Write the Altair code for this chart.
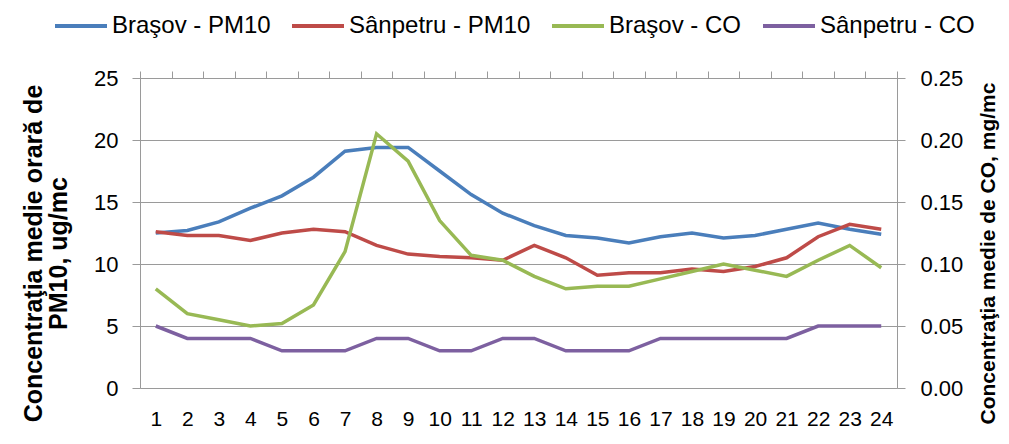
import altair as alt
import pandas as pd

hours = list(range(1, 25))
brasov_pm10 = [12.5, 12.7, 13.4, 14.5, 15.5, 17.0, 19.1, 19.4, 19.4, 17.5, 15.6, 14.1,
               13.1, 12.3, 12.1, 11.7, 12.2, 12.5, 12.1, 12.3, 12.8, 13.3, 12.8, 12.4]
sanpetru_pm10 = [12.6, 12.3, 12.3, 11.9, 12.5, 12.8, 12.6, 11.5, 10.8, 10.6, 10.5, 10.3,
                 11.5, 10.5, 9.1, 9.3, 9.3, 9.6, 9.4, 9.8, 10.5, 12.2, 13.2, 12.8]
brasov_co = [0.080, 0.060, 0.055, 0.050, 0.052, 0.067, 0.110, 0.205, 0.183, 0.135, 0.107, 0.103,
             0.090, 0.080, 0.082, 0.082, 0.088, 0.094, 0.100, 0.095, 0.090, 0.103, 0.115, 0.097]
sanpetru_co = [0.05, 0.04, 0.04, 0.04, 0.03, 0.03, 0.03, 0.04, 0.04, 0.03, 0.03, 0.04,
               0.04, 0.03, 0.03, 0.03, 0.04, 0.04, 0.04, 0.04, 0.04, 0.05, 0.05, 0.05]

series_names = ["Braşov - PM10", "Sânpetru - PM10", "Braşov - CO", "Sânpetru - CO"]
series_colors = ["#4A7EBB", "#BE4B48", "#98B954", "#7D60A0"]
left_ticks = [0, 5, 10, 15, 20, 25]
right_ticks = [0, 0.05, 0.10, 0.15, 0.20, 0.25]
tick_between = [h - 0.5 for h in hours] + [24.5]

rows = []
for name, vals in zip(series_names, [brasov_pm10, sanpetru_pm10, brasov_co, sanpetru_co]):
    for h, v in zip(hours, vals):
        rows.append({"hour": h, "series": name, "value": v})
df = pd.DataFrame(rows)

FONT = "Liberation Sans"
GRAY = "#9A9A9A"

color = alt.Color(
    "series:N",
    scale=alt.Scale(domain=series_names, range=series_colors),
    legend=alt.Legend(
        title=None, orient="none", direction="horizontal", columns=4,
        legendX=-87, legendY=-80, symbolType="stroke", symbolStrokeWidth=4,
        symbolSize=2704, labelFontSize=24, labelFont=FONT, labelColor="#000000",
        columnPadding=13, labelOffset=3, labelLimit=400,
    ),
    sort=series_names,
)

base = alt.Chart(df)

left = base.transform_filter(
    alt.FieldOneOfPredicate(field="series", oneOf=series_names[:2])
).mark_line(strokeWidth=3.5).encode(
    x=alt.X("hour:Q", scale=alt.Scale(domain=[0.5, 24.5], nice=False, zero=False),
            axis=alt.Axis(values=hours, ticks=False, grid=False, domain=False,
                          title=None, labelFontSize=21, labelFont=FONT,
                          labelColor="#000000", labelPadding=20, labelFlush=False,
                          labelOverlap=False)),
    y=alt.Y("value:Q", scale=alt.Scale(domain=[0, 25], nice=False),
            axis=alt.Axis(values=left_ticks, orient="left",
                          title=["Concentraţia medie orară de", "PM10, ug/mc"],
                          titleFontSize=25, titleFont=FONT, titleFontWeight="bold",
                          titleColor="#000000", titleLineHeight=25,
                          titleX=-107, titleY=175, titleAngle=270,
                          titleAlign="center", titleBaseline="middle",
                          labelFontSize=22, labelFont=FONT, labelColor="#000000",
                          labelPadding=14, tickSize=8, tickColor=GRAY,
                          domainColor=GRAY, gridColor=GRAY, grid=True)),
    color=color,
    order=alt.Order("hour:Q"),
)

right = base.transform_filter(
    alt.FieldOneOfPredicate(field="series", oneOf=series_names[2:])
).mark_line(strokeWidth=3.5).encode(
    x=alt.X("hour:Q", scale=alt.Scale(domain=[0.5, 24.5], nice=False, zero=False),
            axis=alt.Axis(values=tick_between, labels=False, grid=False, title=None,
                          tickSize=7, tickColor=GRAY, domainColor=GRAY)),
    y=alt.Y("value:Q", scale=alt.Scale(domain=[0, 0.25], nice=False),
            axis=alt.Axis(values=right_ticks, orient="right", format=".2f",
                          title="Concentraţia medie de CO, mg/mc",
                          titleFontSize=21, titleFont=FONT, titleFontWeight="bold",
                          titleColor="#000000", titleAngle=270,
                          titleX=91, titleY=175, titleAlign="center",
                          titleBaseline="middle",
                          labelFontSize=22, labelFont=FONT, labelColor="#000000",
                          labelPadding=15, tickSize=8, tickColor=GRAY,
                          domainColor=GRAY, grid=False)),
    color=color,
    order=alt.Order("hour:Q"),
)

chart = alt.layer(left, right).resolve_scale(y="independent").resolve_axis(
    x="independent"
).properties(
    width=757, height=310,
    autosize=alt.AutoSizeParams(type="none"),
    padding={"left": 132, "top": 70, "right": 104, "bottom": 48},
).configure_view(stroke=None).configure(background="#FFFFFF")

chart.save("out.html", embed_options={"renderer": "svg", "actions": False})
